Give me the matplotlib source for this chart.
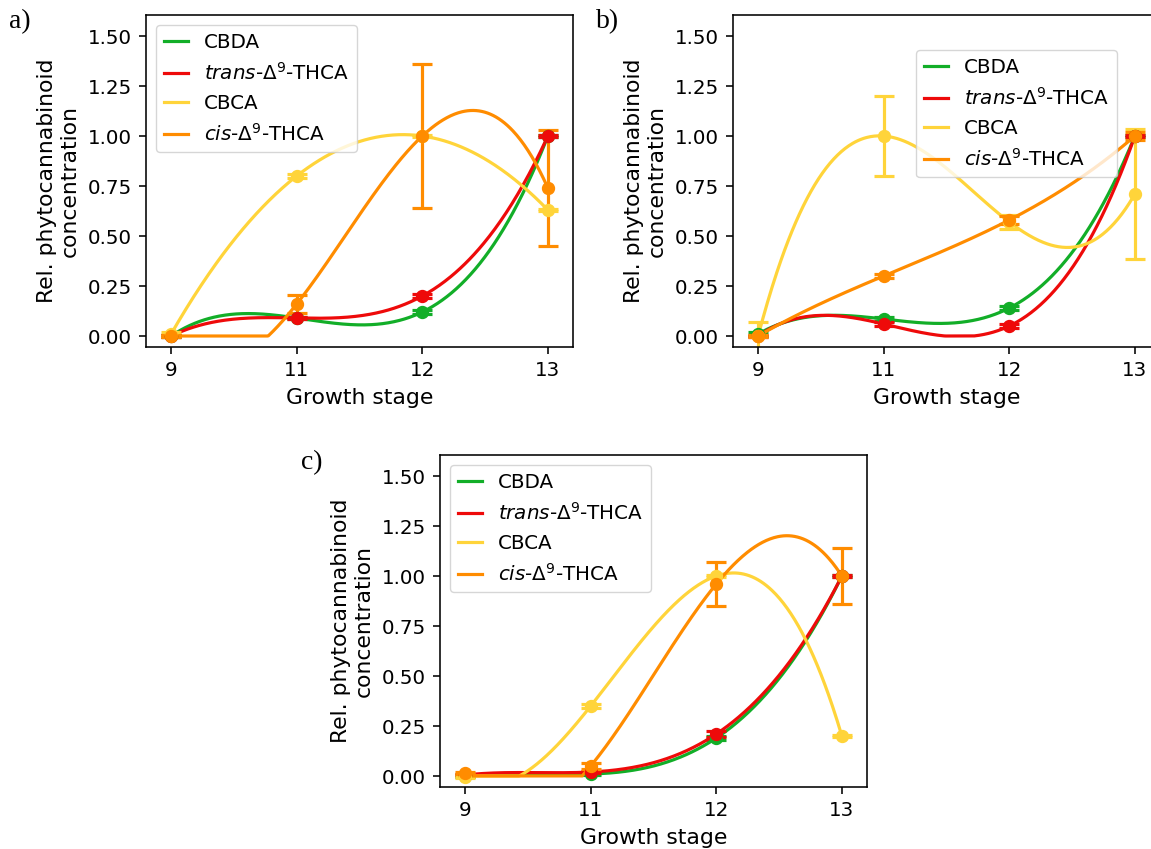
import numpy as np
import matplotlib
matplotlib.use("Agg")
import matplotlib.pyplot as plt

# ---- data ----
stages = ["9", "11", "12", "13"]
compounds = ["CBDA", "trans", "CBCA", "cis"]
labels = ["CBDA", r"$\mathit{trans}$-Δ$^{9}$-THCA", "CBCA", r"$\mathit{cis}$-Δ$^{9}$-THCA"]
colors = ["#12ae28", "#ee0a0a", "#ffd43a", "#ff8c00"]

# panel a)
a_CBDA = [0.0, 0.09, 0.12, 1.0]
a_CBDA_err = [0.005, 0.005, 0.012, 0.005]
a_trans = [0.0, 0.09, 0.20, 1.0]
a_trans_err = [0.005, 0.005, 0.012, 0.005]
a_CBCA = [0.01, 0.80, 1.0, 0.63]
a_CBCA_err = [0.01, 0.01, 0.005, 0.005]
a_cis = [0.0, 0.16, 1.0, 0.74]
a_cis_err = [0.005, 0.045, 0.36, 0.29]

# panel b)
b_CBDA = [0.01, 0.085, 0.14, 1.0]
b_CBDA_err = [0.01, 0.01, 0.01, 0.005]
b_trans = [0.0, 0.06, 0.05, 1.0]
b_trans_err = [0.005, 0.01, 0.01, 0.005]
b_CBCA = [0.0, 1.0, 0.57, 0.71]
b_CBCA_err = [0.07, 0.2, 0.035, 0.325]
b_cis = [0.0, 0.30, 0.58, 1.0]
b_cis_err = [0.005, 0.01, 0.02, 0.02]

# panel c)
c_CBDA = [0.0, 0.01, 0.19, 1.0]
c_CBDA_err = [0.005, 0.005, 0.012, 0.005]
c_trans = [0.005, 0.02, 0.21, 1.0]
c_trans_err = [0.005, 0.005, 0.015, 0.005]
c_CBCA = [-0.005, 0.35, 1.0, 0.20]
c_CBCA_err = [0.005, 0.01, 0.005, 0.005]
c_cis = [0.015, 0.05, 0.96, 1.0]
c_cis_err = [0.005, 0.015, 0.11, 0.14]

panels = {
    "a)": ([a_CBDA, a_trans, a_CBCA, a_cis], [a_CBDA_err, a_trans_err, a_CBCA_err, a_cis_err]),
    "b)": ([b_CBDA, b_trans, b_CBCA, b_cis], [b_CBDA_err, b_trans_err, b_CBCA_err, b_cis_err]),
    "c)": ([c_CBDA, c_trans, c_CBCA, c_cis], [c_CBDA_err, c_trans_err, c_CBCA_err, c_cis_err]),
}

# ---- style ----
S = 1.43
plt.rcParams.update({
    "font.family": "DejaVu Sans",
    "axes.linewidth": 0.8 * S,
    "xtick.major.size": 3.5 * S,
    "ytick.major.size": 3.5 * S,
    "xtick.major.width": 0.8 * S,
    "ytick.major.width": 0.8 * S,
    "xtick.major.pad": 3.5 * S,
    "ytick.major.pad": 3.5 * S,
    "xtick.labelsize": 10 * S,
    "ytick.labelsize": 10 * S,
    "axes.labelsize": 11 * S,
    "axes.labelpad": 4 * S,
    "legend.fontsize": 10 * S,
})

W, H = 1151, 849
fig = plt.figure(figsize=(W / 100, H / 100), dpi=100)

def px_axes(left, top, width, height):
    return fig.add_axes([left / W, 1 - (top + height) / H, width / W, height / H])

axes_px = {"a)": (146, 15), "b)": (733, 15), "c)": (440, 455)}
letter_px = {"a)": (9, 22), "b)": (596, 22), "c)": (301, 463)}
pos = np.arange(len(stages))
xs = np.linspace(pos[0], pos[-1], 400)

for key, (series, errs) in panels.items():
    l, t = axes_px[key]
    ax = px_axes(l, t, 427, 332)
    for vals, err, lab, col in zip(series, errs, labels, colors):
        coef = np.polyfit(pos, vals, 3)
        smooth = np.clip(np.polyval(coef, xs), 0, None)
        ax.plot(xs, smooth, color=col, lw=1.6 * S, label=lab)
        ax.errorbar(pos, vals, yerr=err, fmt="o", color=col, ms=6 * S,
                    elinewidth=1.6 * S, capsize=5 * S, capthick=1.6 * S)
    ax.set_xlim(-0.2, 3.2)
    ax.set_ylim(-0.055, 1.605)
    ax.set_xticks(pos)
    ax.set_xticklabels(stages)
    ax.set_yticks([0, 0.25, 0.5, 0.75, 1.0, 1.25, 1.5])
    ax.set_yticklabels(["0.00", "0.25", "0.50", "0.75", "1.00", "1.25", "1.50"])
    ax.set_xlabel("Growth stage")
    ax.set_ylabel("Rel. phytocannabinoid\nconcentration")
    if key == "b)":
        ax.legend(loc="upper left", bbox_to_anchor=(916 / W, 1 - 50 / H),
                  bbox_transform=fig.transFigure, borderaxespad=0, handlelength=1.2)
    else:
        ax.legend(loc="upper left", handlelength=1.2)
    lx, ly = letter_px[key]
    fig.text(lx / W, 1 - ly / H, key, family="Liberation Serif", fontsize=20,
             ha="left", va="center")

fig.savefig("out.png", dpi=100)
